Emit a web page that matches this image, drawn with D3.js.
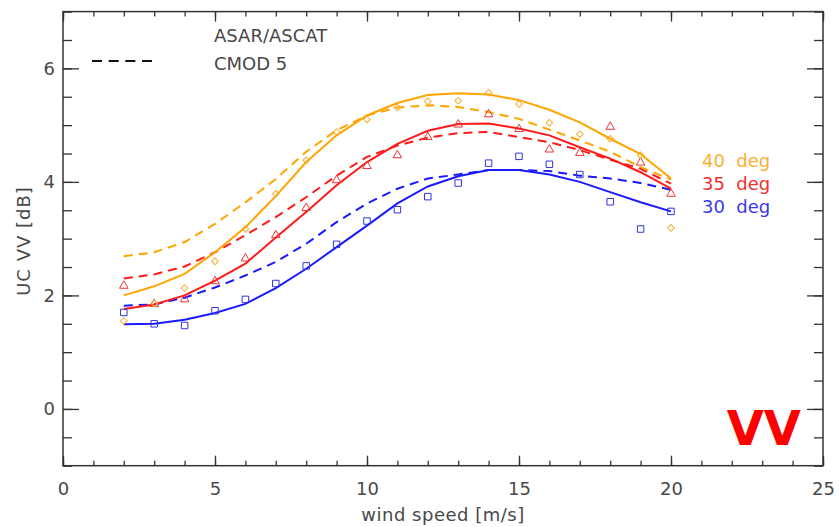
<!DOCTYPE html>
<html>
<head>
<meta charset="utf-8">
<script src="https://cdn.jsdelivr.net/npm/d3@7"></script>
<style>
  html, body { margin: 0; padding: 0; background: #fff; }
  svg { display: block; }
  text { font-family: "DejaVu Sans", sans-serif; }
</style>
</head>
<body>
<script>
// ---- data ----
const windSpeed = [2,3,4,5,6,7,8,9,10,11,12,13,14,15,16,17,18,19,20];

// ASAR/ASCAT measured points (markers)
const asar40 = [1.55,1.86,2.13,2.60,3.17,3.79,4.38,4.88,5.10,5.31,5.42,5.43,5.57,5.37,5.04,4.84,4.76,4.47,3.19];
const asar35 = [2.17,1.85,1.93,2.25,2.65,3.06,3.54,4.03,4.28,4.47,4.79,5.01,5.19,4.93,4.57,4.51,4.97,4.34,3.79];
const asar30 = [1.70,1.50,1.47,1.73,1.93,2.21,2.52,2.90,3.31,3.51,3.74,3.98,4.33,4.45,4.31,4.13,3.65,3.17,3.48];

// ASAR/ASCAT fitted curves (solid)
const fit40 = [2.00,2.16,2.38,2.76,3.20,3.75,4.35,4.82,5.17,5.39,5.53,5.56,5.54,5.44,5.27,5.05,4.76,4.49,4.06];
const fit35 = [1.76,1.84,2.00,2.26,2.56,3.02,3.47,3.94,4.35,4.67,4.90,5.02,5.03,4.94,4.82,4.61,4.41,4.17,3.88];
const fit30 = [1.49,1.50,1.57,1.69,1.85,2.13,2.47,2.85,3.23,3.62,3.92,4.10,4.21,4.21,4.13,4.00,3.82,3.64,3.48];

// CMOD 5 curves (dashed)
const cmod40 = [2.69,2.76,2.94,3.26,3.64,4.05,4.53,4.91,5.17,5.31,5.35,5.32,5.23,5.11,4.92,4.73,4.53,4.26,4.04];
const cmod35 = [2.30,2.37,2.51,2.76,3.06,3.38,3.73,4.11,4.44,4.64,4.78,4.86,4.88,4.79,4.70,4.56,4.39,4.23,3.97];
const cmod30 = [1.82,1.84,1.96,2.14,2.35,2.59,2.91,3.29,3.62,3.88,4.06,4.13,4.21,4.21,4.19,4.11,4.06,3.98,3.86];

const angleLabels = ["40 deg","35 deg","30 deg"];
const xMajorTicks = [0,5,10,15,20,25];
const xMinorTicks = d3.range(0,26,1);
const yMajorTicks = [0,2,4,6];
const yMinorTicks = d3.range(-1,7.01,0.5);
const xLabel = "wind speed [m/s]";
const yLabel = "UC VV [dB]";
const legendLabels = ["ASAR/ASCAT","CMOD 5"];
const polLabel = "VV";

// ---- layout ----
const W = 839, H = 527;
const L = 63, R = 823, T = 11.6, B = 465.7;
const colors = { 40: "#ffa500", 35: "#ff1a1a", 30: "#1a1aff" };
const markColors = { 40: "#f7ad33", 35: "#ee3333", 30: "#3333dd" };
const labelColors = { 40: "#f9b030", 35: "#f23030", 30: "#3a3ae6" };
const textColor = "#484848";

const svg = d3.select("body").append("svg").attr("width", W).attr("height", H);
const x = d3.scaleLinear().domain([0,25]).range([L,R]);
const y = d3.scaleLinear().domain([-1,7]).range([B,T]);

const axisColor = "#333";
function styleAxis(g) {
  g.select(".domain").remove();
  g.selectAll("line").attr("stroke", axisColor).attr("stroke-width", 1.3);
  g.selectAll("text").attr("fill", textColor).attr("font-size", 18).attr("font-family", "DejaVu Sans, sans-serif");
}

// bottom
svg.append("g").attr("transform", `translate(0,${B})`)
  .call(d3.axisBottom(x).tickValues(xMinorTicks).tickSize(-5).tickFormat("")).call(styleAxis);
svg.append("g").attr("transform", `translate(0,${B})`)
  .call(d3.axisBottom(x).tickValues(xMajorTicks).tickSize(-10).tickPadding(16.5).tickFormat(d3.format("d"))).call(styleAxis);
// top
svg.append("g").attr("transform", `translate(0,${T})`)
  .call(d3.axisTop(x).tickValues(xMinorTicks).tickSize(-5).tickFormat("")).call(styleAxis);
svg.append("g").attr("transform", `translate(0,${T})`)
  .call(d3.axisTop(x).tickValues(xMajorTicks).tickSize(-10).tickFormat("")).call(styleAxis);
// left
svg.append("g").attr("transform", `translate(${L},0)`)
  .call(d3.axisLeft(y).tickValues(yMinorTicks).tickSize(-9).tickFormat("")).call(styleAxis);
svg.append("g").attr("transform", `translate(${L},0)`)
  .call(d3.axisLeft(y).tickValues(yMajorTicks).tickSize(-16).tickPadding(8).tickFormat(d3.format("d"))).call(styleAxis);
// right
svg.append("g").attr("transform", `translate(${R},0)`)
  .call(d3.axisRight(y).tickValues(yMinorTicks).tickSize(-9).tickFormat("")).call(styleAxis);
svg.append("g").attr("transform", `translate(${R},0)`)
  .call(d3.axisRight(y).tickValues(yMajorTicks).tickSize(-16).tickFormat("")).call(styleAxis);

// frame
svg.append("rect").attr("x", L).attr("y", T).attr("width", R-L).attr("height", B-T)
  .attr("fill", "none").attr("stroke", axisColor).attr("stroke-width", 1.5);

// axis labels
svg.append("text").attr("x", (L+R)/2).attr("y", 521).attr("text-anchor", "middle")
  .attr("font-size", 18).attr("letter-spacing", 0.5).attr("fill", textColor).text(xLabel);
svg.append("text").attr("transform", "translate(30,241) rotate(-90)").attr("text-anchor", "middle")
  .attr("font-size", 18).attr("letter-spacing", 1).attr("fill", textColor).text(yLabel);

// lines
const line = d3.line().x((d,i) => x(windSpeed[i])).y(d => y(d)).curve(d3.curveLinear);
const series = [
  { key: 30, fit: fit30, cmod: cmod30, pts: asar30, sym: d3.symbolSquare, size: 42, rot: 0 },
  { key: 35, fit: fit35, cmod: cmod35, pts: asar35, sym: d3.symbolTriangle, size: 32, rot: 0 },
  { key: 40, fit: fit40, cmod: cmod40, pts: asar40, sym: d3.symbolSquare, size: 22, rot: 45 }
];

series.forEach(s => {
  svg.append("path").datum(s.cmod).attr("d", line).attr("fill", "none")
    .attr("stroke", colors[s.key]).attr("stroke-width", 2).attr("stroke-dasharray", "9,6");
});
series.forEach(s => {
  svg.append("path").datum(s.fit).attr("d", line).attr("fill", "none")
    .attr("stroke", colors[s.key]).attr("stroke-width", 2);
});
series.forEach(s => {
  svg.append("g").selectAll("path").data(s.pts).join("path")
    .attr("transform", (d,i) => `translate(${x(windSpeed[i])},${y(d)}) rotate(${s.rot})`)
    .attr("d", d3.symbol().type(s.sym).size(s.size))
    .attr("fill", "none").attr("stroke", markColors[s.key]).attr("stroke-width", 1);
});

// legend
svg.append("text").attr("x", 214).attr("y", 41.7).attr("font-size", 18).attr("fill", textColor).text(legendLabels[0]);
svg.append("line").attr("x1", 92).attr("x2", 152).attr("y1", 61).attr("y2", 61)
  .attr("stroke", "#111").attr("stroke-width", 2).attr("stroke-dasharray", "10,6.67");
svg.append("text").attr("x", 214).attr("y", 70).attr("font-size", 18).attr("fill", textColor).text(legendLabels[1]);

// angle labels
const angleKeys = [40,35,30];
const angleBase = [167, 190, 213];
angleLabels.forEach((t,i) => {
  svg.append("text").attr("x", 702).attr("y", angleBase[i]).attr("font-size", 18)
    .attr("fill", labelColors[angleKeys[i]]).style("white-space", "pre").text(t.replace(" ", "  "));
});

// polarisation label
svg.append("text").attr("x", 801).attr("y", 445).attr("text-anchor", "end")
  .attr("font-family", "Liberation Sans, Arial, sans-serif").attr("font-weight", "bold")
  .attr("font-size", 48).attr("fill", "#ff0000").text(polLabel);
</script>
</body>
</html>
